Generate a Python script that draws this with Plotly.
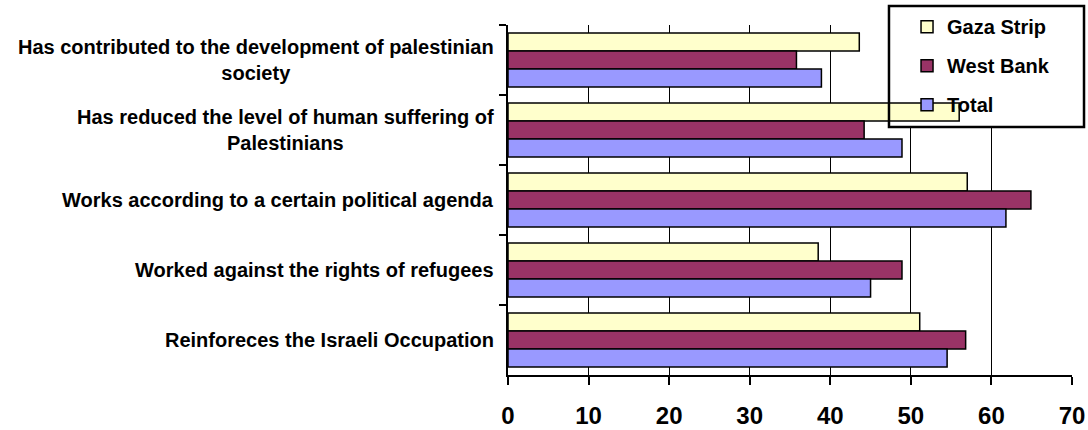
import plotly.graph_objects as go

categories = [
    "Has contributed to the development of palestinian<br>society",
    "Has reduced the level of human suffering of<br>Palestinians",
    "Works according to a certain political agenda",
    "Worked against the rights of refugees",
    "Reinforeces the Israeli Occupation",
]
gaza_strip = [43.6, 56.0, 57.0, 38.5, 51.1]
west_bank = [35.8, 44.2, 64.9, 48.9, 56.8]
total = [38.9, 48.9, 61.8, 45.0, 54.5]

series_names = ["Gaza Strip", "West Bank", "Total"]
series_values = [gaza_strip, west_bank, total]
series_colors = ["#FFFFCC", "#993366", "#9999FF"]

x_ticks = [0, 10, 20, 30, 40, 50, 60, 70]

FONT = "Liberation Sans, Arial, sans-serif"

fig = go.Figure()
for name, vals, col in zip(series_names, series_values, series_colors):
    fig.add_trace(go.Bar(
        y=categories, x=vals, name=name, orientation="h",
        marker=dict(color=col, line=dict(color="black", width=1.5)),
        legendgroup=name,
    ))

# category labels as centred multi-line annotations
for c in categories:
    fig.add_annotation(
        x=0, xref="paper", y=c, yref="y",
        text="<b>" + c + "</b>", showarrow=False,
        xanchor="right", xshift=-12, align="center",
        font=dict(family=FONT, size=20, color="black"),
    )

# legend box: white fill between gridlines and bars, border on top
fig.add_shape(type="rect", xref="paper", yref="paper",
              x0=0.6755, x1=1.0213, y0=0.7086, y1=1.0543,
              fillcolor="rgba(0,0,0,0)", line=dict(color="black", width=2.5),
              layer="above")
fig.add_shape(type="rect", xref="x", yref="y",
              x0=47.3, x1=70, y0=-0.5, y1=0.957,
              fillcolor="white", line=dict(width=0), layer="between")

fig.update_layout(
    width=1088, height=430,
    margin=dict(l=508, r=16, t=25, b=55, autoexpand=False),
    paper_bgcolor="white", plot_bgcolor="white",
    barmode="group", bargap=0.23, bargroupgap=0,
    font=dict(family=FONT, color="black"),
    showlegend=True,
    legend=dict(
        x=0.7075, y=1.051, xanchor="left", yanchor="top",
        bgcolor="rgba(0,0,0,0)", borderwidth=0,
        font=dict(family=FONT, size=20, color="black", weight="bold"),
        traceorder="grouped", tracegroupgap=10,
    ),
    xaxis=dict(
        range=[0, 70], tickvals=x_ticks, ticktext=[f"<b>{v}</b>" for v in x_ticks],
        showgrid=True, gridcolor="black", gridwidth=1.2,
        showline=True, linecolor="black", linewidth=2,
        ticks="outside", ticklen=8, tickwidth=2, tickcolor="black",
        ticklabelstandoff=10,
        zeroline=False,
        tickfont=dict(family=FONT, size=24, color="black"),
        fixedrange=True,
    ),
    yaxis=dict(
        range=[len(categories) - 0.5, -0.5], showticklabels=False,
        tickson="boundaries", ticks="outside", ticklen=7, tickwidth=2, tickcolor="black",
        showline=True, linecolor="black", linewidth=2,
        showgrid=False, zeroline=False, fixedrange=True,
    ),
)

fig.write_html(
    "out.html",
    config={"displayModeBar": False},
    post_script="document.body.style.margin='0';document.body.style.overflow='hidden';",
)
